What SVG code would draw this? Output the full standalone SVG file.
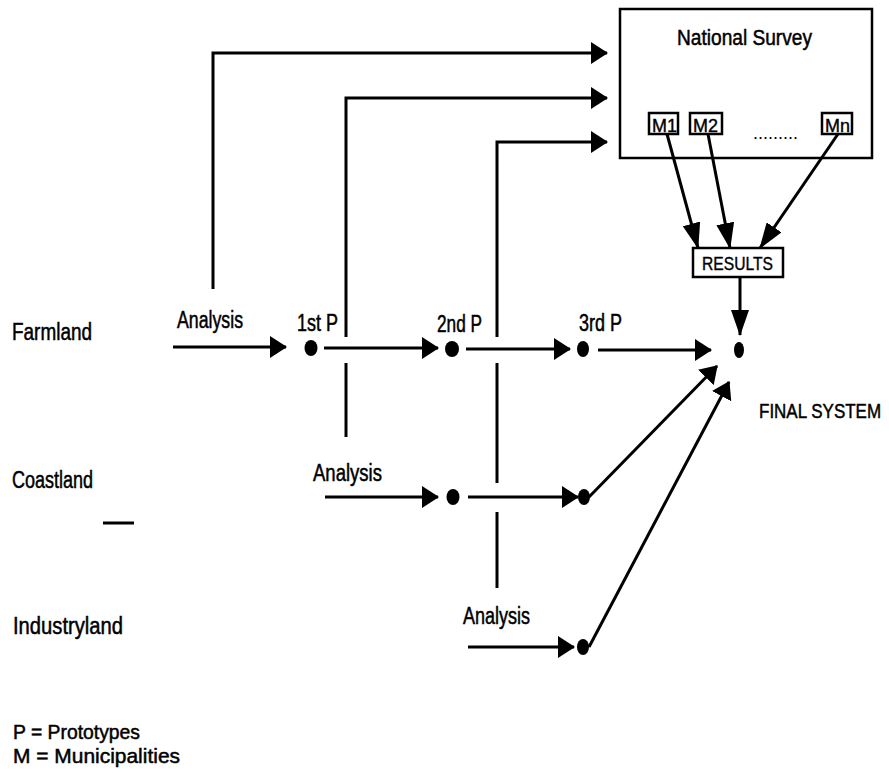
<svg xmlns="http://www.w3.org/2000/svg" width="889" height="774" viewBox="0 0 889 774">
<style>
  .ln { stroke: #000; stroke-width: 3; fill: none; }
  .bx { stroke: #000; stroke-width: 2.5; fill: #fff; }
  .t { font-family: "Liberation Sans", Arial, sans-serif; font-size: 23px; fill: #000; stroke: #000; stroke-width: 0.5; }
  .s { font-family: "Liberation Sans", Arial, sans-serif; font-size: 19px; fill: #000; stroke: #000; stroke-width: 0.4; }
  .dot { fill: #000; }
</style>
<defs>
  <marker id="ah" viewBox="0 0 17 22" refX="16" refY="11" markerWidth="17" markerHeight="22" markerUnits="userSpaceOnUse" orient="auto">
    <path d="M0,0 L17,11 L0,22 Z" fill="#000"/>
  </marker>
  <marker id="ahl" viewBox="0 0 26 18" refX="25" refY="9" markerWidth="26" markerHeight="18" markerUnits="userSpaceOnUse" orient="auto">
    <path d="M0,0 L26,9 L0,18 Z" fill="#000"/>
  </marker>
</defs>
<rect width="889" height="774" fill="#fff"/>

<g id="national-survey">
  <rect class="bx" x="620" y="9" width="252" height="149"/>
  <text class="t" x="677" y="45" style="font-size:22px" textLength="135" lengthAdjust="spacingAndGlyphs">National Survey</text>
  <text class="s" x="753" y="139" style="font-size:18px;stroke-width:0">.........</text>
</g>
<g id="m1">
  <rect class="bx" x="649" y="113" width="29" height="21"/>
  <text class="s" x="652" y="132" textLength="25" lengthAdjust="spacingAndGlyphs">M1</text>
</g>
<g id="m2">
  <rect class="bx" x="690" y="113" width="32" height="21"/>
  <text class="s" x="693" y="132" textLength="25" lengthAdjust="spacingAndGlyphs">M2</text>
</g>
<g id="mn">
  <rect class="bx" x="822" y="113" width="30" height="21"/>
  <text class="s" x="825" y="132" textLength="25" lengthAdjust="spacingAndGlyphs">Mn</text>
</g>
<g id="results">
  <rect class="bx" x="693" y="248" width="90" height="29"/>
  <text class="s" x="702" y="270" textLength="71" lengthAdjust="spacingAndGlyphs">RESULTS</text>
</g>

<g id="labels">
  <text class="t" x="12" y="340" textLength="80" lengthAdjust="spacingAndGlyphs">Farmland</text>
  <text class="t" x="12" y="488" textLength="81" lengthAdjust="spacingAndGlyphs">Coastland</text>
  <text class="t" x="13" y="634" textLength="110" lengthAdjust="spacingAndGlyphs">Industryland</text>
  <text class="t" transform="translate(759,418) scale(1,1.2)" x="0" y="0" style="font-size:17px;stroke-width:0.4">FINAL SYSTEM</text>
  <text class="t" x="13" y="739" style="font-size:21px" textLength="127" lengthAdjust="spacingAndGlyphs">P = Prototypes</text>
  <text class="t" x="13" y="763" style="font-size:21px" textLength="167" lengthAdjust="spacingAndGlyphs">M = Municipalities</text>
</g>

<g id="farmland-stages">
  <text class="t" x="177" y="328" textLength="66" lengthAdjust="spacingAndGlyphs">Analysis</text>
  <text class="t" x="297" y="331" textLength="41" lengthAdjust="spacingAndGlyphs">1st P</text>
  <text class="t" x="437" y="332" textLength="45" lengthAdjust="spacingAndGlyphs">2nd P</text>
  <text class="t" x="579" y="331" textLength="43" lengthAdjust="spacingAndGlyphs">3rd P</text>
  <ellipse class="dot" cx="311" cy="348" rx="6.5" ry="8"/>
  <ellipse class="dot" cx="452" cy="349" rx="7" ry="8"/>
  <ellipse class="dot" cx="583" cy="349" rx="6" ry="8"/>
  <ellipse id="final-system" class="dot" cx="739" cy="350" rx="5" ry="8"/>
</g>
<g id="coastland-stages">
  <text class="t" x="313" y="481" textLength="69" lengthAdjust="spacingAndGlyphs">Analysis</text>
  <ellipse class="dot" cx="453" cy="497" rx="6.5" ry="8"/>
  <ellipse class="dot" cx="584" cy="497" rx="6" ry="8"/>
</g>
<g id="industryland-stages">
  <text class="t" x="463" y="624" textLength="67" lengthAdjust="spacingAndGlyphs">Analysis</text>
  <ellipse class="dot" cx="583" cy="647" rx="6" ry="8"/>
</g>

<g id="connectors">
  <path class="ln" d="M213,289 V53 H607" marker-end="url(#ah)"/>
  <path class="ln" d="M346,337 V98 H607" marker-end="url(#ah)"/>
  <line class="ln" x1="346" y1="363" x2="346" y2="437"/>
  <path class="ln" d="M497,337 V142 H607" marker-end="url(#ah)"/>
  <line class="ln" x1="497" y1="363" x2="497" y2="483"/>
  <line class="ln" x1="497" y1="512" x2="497" y2="588"/>
  <line class="ln" x1="173" y1="347" x2="286" y2="347" marker-end="url(#ah)"/>
  <line class="ln" x1="324" y1="348" x2="438" y2="348" marker-end="url(#ah)"/>
  <line class="ln" x1="466" y1="349" x2="570" y2="349" marker-end="url(#ah)"/>
  <line class="ln" x1="598" y1="350" x2="711" y2="350" marker-end="url(#ah)"/>
  <line class="ln" x1="325" y1="497" x2="438" y2="497" marker-end="url(#ah)"/>
  <line class="ln" x1="468" y1="497" x2="578" y2="497" marker-end="url(#ah)"/>
  <line class="ln" x1="589" y1="497" x2="717" y2="366" marker-end="url(#ah)"/>
  <line class="ln" x1="468" y1="647" x2="574" y2="647" marker-end="url(#ah)"/>
  <line class="ln" x1="589" y1="647" x2="729" y2="382" marker-end="url(#ah)"/>
  <line class="ln" x1="667" y1="134" x2="698" y2="248" marker-end="url(#ahl)"/>
  <line class="ln" x1="708" y1="134" x2="730" y2="248" marker-end="url(#ahl)"/>
  <line class="ln" x1="838" y1="134" x2="760" y2="248" marker-end="url(#ahl)"/>
  <line class="ln" x1="740" y1="277" x2="740" y2="335" marker-end="url(#ahl)"/>
  <line class="ln" x1="103" y1="523" x2="134" y2="523"/>
</g>
</svg>
